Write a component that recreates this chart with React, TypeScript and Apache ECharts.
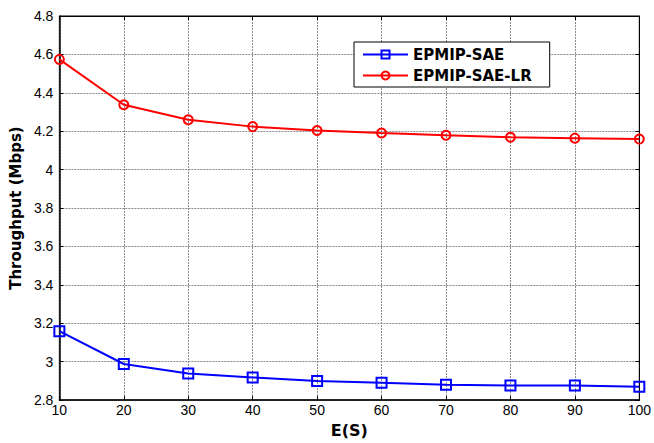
import React, { useEffect, useRef } from "react";
import * as echarts from "echarts";

const xValues = [10, 20, 30, 40, 50, 60, 70, 80, 90, 100];
const saeValues = [3.159, 2.988, 2.938, 2.918, 2.9, 2.89, 2.88, 2.876, 2.876, 2.87];
const saeLrValues = [4.574, 4.338, 4.26, 4.224, 4.204, 4.191, 4.179, 4.169, 4.164, 4.159];
const seriesNames = ["EPMIP-SAE", "EPMIP-SAE-LR"];

export default function App() {
  const ref = useRef<HTMLDivElement>(null);
  useEffect(() => {
    if (!ref.current) return;
    const chart = echarts.init(ref.current, null, { renderer: "svg" });
    const tickFont = { fontFamily: "Liberation Sans", fontSize: 14, color: "#000" };
    const gridLine = { show: true, lineStyle: { color: "#8a8a8a", type: [2, 1], width: 1 } };
    chart.setOption({
      animation: false,
      backgroundColor: "#fff",
      grid: {
        left: 59,
        right: 11,
        top: 16,
        bottom: 37,
        show: true,
        borderColor: "#000",
        borderWidth: 1,
        backgroundColor: "#fff",
      },
      legend: {
        orient: "vertical",
        left: 354,
        top: 42,
        data: seriesNames,
        backgroundColor: "#fff",
        borderColor: "#000",
        borderWidth: 1,
        padding: [5, 18, 4, 8],
        itemWidth: 45,
        itemHeight: 10,
        itemGap: 6,
        textStyle: {
          fontFamily: "DejaVu Sans",
          fontWeight: "bold",
          fontSize: 15,
          color: "#000",
        },
      },
      xAxis: [
        {
          type: "value",
          min: 10,
          max: 100,
          interval: 10,
          name: "E(S)",
          nameLocation: "middle",
          nameGap: 18,
          nameTextStyle: { fontFamily: "DejaVu Sans", fontWeight: "bold", fontSize: 16, color: "#000" },
          axisLine: { show: true, lineStyle: { color: "#000", width: 1.5 } },
          axisTick: { show: true, inside: true, length: 4, lineStyle: { color: "#000" } },
          axisLabel: { ...tickFont, margin: 3 },
          splitLine: gridLine,
        },
        {
          type: "value",
          position: "top",
          min: 10,
          max: 100,
          interval: 10,
          axisLine: { show: true, lineStyle: { color: "#000" } },
          axisTick: { show: true, inside: true, length: 4, lineStyle: { color: "#000" } },
          axisLabel: { show: false },
          splitLine: { show: false },
        },
      ],
      yAxis: [
        {
          type: "value",
          min: 2.8,
          max: 4.8,
          interval: 0.2,
          name: "Throughput (Mbps)",
          nameLocation: "middle",
          nameGap: 35,
          nameTextStyle: { fontFamily: "DejaVu Sans", fontWeight: "bold", fontSize: 15, color: "#000" },
          axisLine: { show: true, lineStyle: { color: "#000", width: 1.5 } },
          axisTick: { show: true, inside: true, length: 4, lineStyle: { color: "#000" } },
          axisLabel: {
            ...tickFont,
            margin: 6,
            formatter: (v: number) => String(parseFloat(v.toFixed(2))),
          },
          splitLine: gridLine,
        },
        {
          type: "value",
          position: "right",
          min: 2.8,
          max: 4.8,
          interval: 0.2,
          axisLine: { show: true, lineStyle: { color: "#000" } },
          axisTick: { show: true, inside: true, length: 4, lineStyle: { color: "#000" } },
          axisLabel: { show: false },
          splitLine: { show: false },
        },
      ],
      series: [
        {
          name: seriesNames[0],
          type: "line",
          data: xValues.map((x, i) => [x, saeValues[i]]),
          symbol: "rect",
          symbolSize: 10,
          lineStyle: { color: "#0000ff", width: 2 },
          itemStyle: { color: "rgba(255,255,255,0)", borderColor: "#0000ff", borderWidth: 2 },
          color: "#0000ff",
          z: 3,
        },
        {
          name: seriesNames[1],
          type: "line",
          data: xValues.map((x, i) => [x, saeLrValues[i]]),
          symbol: "circle",
          symbolSize: 9,
          lineStyle: { color: "#ff0000", width: 2 },
          itemStyle: { color: "rgba(255,255,255,0)", borderColor: "#ff0000", borderWidth: 2 },
          color: "#ff0000",
          z: 3,
        },
      ],
    });
    return () => chart.dispose();
  }, []);
  return <div ref={ref} style={{ width: 654, height: 443, position: "absolute", left: 0, top: 0 }} />;
}
